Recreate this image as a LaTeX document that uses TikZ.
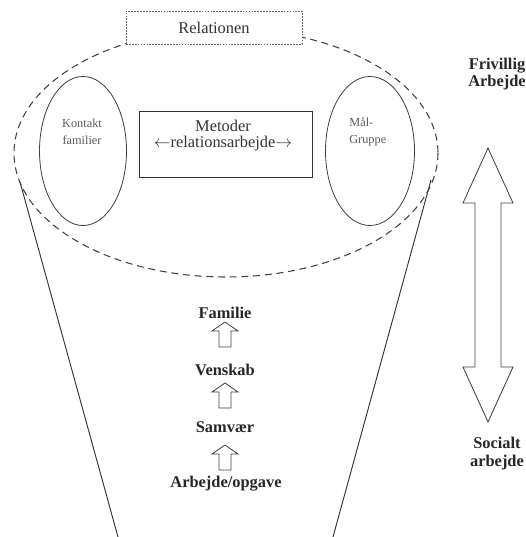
\documentclass[tikz,border=0pt]{standalone}
\usepackage{fontspec}
\setmainfont{Liberation Serif}
\usetikzlibrary{shapes.geometric}

\begin{document}
\begin{tikzpicture}[x=0.03cm,y=-0.03cm,semithick,line join=miter]
  \tikzstyle{lbl}=[font=\fontsize{14}{14.5}\selectfont\bfseries,text=black!85,align=center,inner sep=0pt]
  \tikzstyle{small}=[font=\fontsize{10.5}{14.5}\selectfont,text=black!65,inner sep=0pt]
  \tikzstyle{oval}=[draw=black!75,ellipse,line width=0.7pt,minimum height=4.47cm]
  \tikzstyle{hollow}=[draw=black!75,fill=white,line width=0.7pt]
  \tikzset{uparrow/.pic={\draw[hollow] (0,0) -- (13,9) -- (6,9) -- (6,25) -- (-6,25) -- (-6,9) -- (-13,9) -- cycle;}}

  \useasboundingbox (0,0) rectangle (525,537);

  % tragten
  \draw[black!80,line width=0.8pt] (20,182) -- (118,537);
  \draw[black!80,line width=0.8pt] (431,180) -- (333,537);
  \draw[black!75,line width=0.9pt,dash pattern=on 6pt off 4pt] (226,153) ellipse [x radius=212, y radius=124];

  \node[draw=black!60,fill=white,line width=0.6pt,dash pattern=on 1.5pt off 1pt,
        minimum width=5.28cm,minimum height=0.99cm,inner sep=0pt,
        font=\fontsize{14}{16}\selectfont,text=black!80] (rel) at (214,27.5) {Relationen};

  \node[oval,minimum width=2.61cm] (kon) at (83,151) {};
  \node[oval,minimum width=2.67cm] (maal) at (370,151) {};
  \node[small,align=center] (kontxt) at (82,131.5) {Kontakt\\familier};
  \node[small,align=left,anchor=west] (maaltxt) at (349,131.5) {Mål-\\Gruppe};

  \node[draw=black!80,line width=0.8pt,minimum width=5.19cm,minimum height=1.98cm] (met) at (225.5,144) {};
  \node[font=\fontsize{14}{13.6}\selectfont,text=black!80,align=center,inner sep=0pt] (mettxt) at (223,136)
    {Metoder\\$\leftarrow$relationsarbejde$\rightarrow$};

  % stigen
  \node[lbl] (fam) at (225,313) {Familie};
  \node[lbl] (ven) at (225,370) {Venskab};
  \node[lbl] (sam) at (225,427) {Samvær};
  \node[lbl] (arb) at (226,484) {Arbejde/opgave};
  \pic at (225,322) {uparrow};
  \pic at (225,383) {uparrow};
  \pic at (225,445) {uparrow};

  % frivillig / socialt
  \node[lbl] (friv) at (497,74) {Frivillig\\Arbejde};
  \node[lbl,font=\fontsize{14}{15.3}\selectfont\bfseries] (soc) at (497,454) {Socialt\\arbejde};
  \draw[hollow] (488,148) -- (513,203) -- (501,203) -- (501,367) -- (513,367) -- (488,422)
    -- (463,367) -- (475,367) -- (475,203) -- (463,203) -- cycle;
\end{tikzpicture}
\end{document}
